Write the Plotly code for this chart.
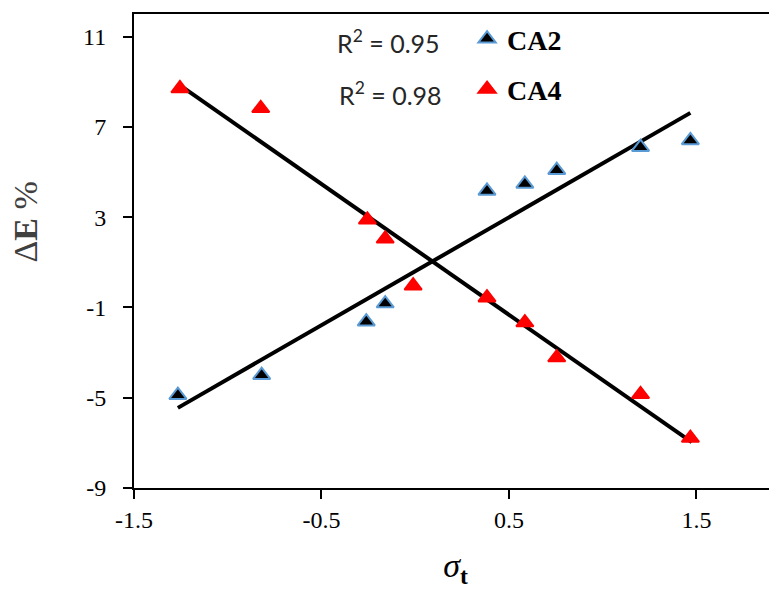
import plotly.graph_objects as go

# --- data ---
ca2_x = [-1.266, -0.819, -0.261, -0.160, 0.383, 0.585, 0.755, 1.202, 1.468]
ca2_y = [-4.89, -4.00, -1.63, -0.83, 4.16, 4.47, 5.08, 6.10, 6.40]

ca4_x = [-1.255, -0.824, -0.255, -0.160, -0.011, 0.383, 0.585, 0.755, 1.202, 1.468]
ca4_y = [8.70, 7.82, 2.88, 2.04, -0.04, -0.57, -1.67, -3.22, -4.85, -6.79]

# trend line end points (as drawn)
ca2_fit_x = [-1.266, 1.468]
ca2_fit_y = [-5.45, 7.62]
ca4_fit_x = [-1.262, 1.475]
ca4_fit_y = [8.88, -6.97]

r2_labels = ["R<sup>2</sup> = 0.95", "R<sup>2</sup> = 0.98"]
x_ticks = [-1.5, -0.5, 0.5, 1.5]
y_ticks = [-9, -5, -1, 3, 7, 11]

fig = go.Figure()

fig.add_trace(go.Scatter(x=ca2_fit_x, y=ca2_fit_y, mode="lines",
                         line=dict(color="black", width=4), showlegend=False,
                         hoverinfo="skip"))
fig.add_trace(go.Scatter(x=ca4_fit_x, y=ca4_fit_y, mode="lines",
                         line=dict(color="black", width=4), showlegend=False,
                         hoverinfo="skip"))

fig.add_trace(go.Scatter(x=ca2_x, y=ca2_y, mode="markers", name="<b>CA2</b>",
                         legendgroup="a",
                         marker=dict(symbol="triangle-up", size=15, color="black",
                                     line=dict(color="#5B9BD5", width=2))))
fig.add_trace(go.Scatter(x=ca4_x, y=ca4_y, mode="markers", name="<b>CA4</b>",
                         legendgroup="b",
                         marker=dict(symbol="triangle-up", size=15, color="#FF0000",
                                     line=dict(color="#FF0000", width=2))))

r2_font = dict(family="Lato", size=25, color="#262626")
fig.add_annotation(x=-0.14, y=10.76, xref="x", yref="y", text=r2_labels[0],
                   showarrow=False, font=r2_font, xanchor="center", yanchor="middle")
fig.add_annotation(x=-0.13, y=8.50, xref="x", yref="y", text=r2_labels[1],
                   showarrow=False, font=r2_font, xanchor="center", yanchor="middle")

# y-axis title (placed a little above the plot centre, as in the reference)
fig.add_annotation(x=0, y=2.76, xref="paper", yref="y", xshift=-108,
                   text="Δ<b>E</b> %", textangle=-90, showarrow=False,
                   font=dict(family="Liberation Serif", size=34, color="#404040"),
                   xanchor="center", yanchor="middle")

# page body has an 8px default margin: figure is sized so the plot sits where the reference has it
fig.update_layout(
    width=769, height=581,
    margin=dict(l=126, r=0, t=6, b=101, autoexpand=False),
    paper_bgcolor="white", plot_bgcolor="white",
    font=dict(family="Liberation Serif", color="black", size=24),
    showlegend=True,
    legend=dict(x=0.518, y=1.0, xanchor="left", yanchor="top",
                font=dict(family="Liberation Serif", size=28, color="black"),
                bgcolor="rgba(0,0,0,0)", traceorder="grouped", tracegroupgap=11,
                itemwidth=30),
    xaxis=dict(range=[-1.5, 1.93], tickvals=x_ticks, ticktext=[str(v) for v in x_ticks],
               showgrid=False, zeroline=False, showline=True, linecolor="black",
               linewidth=2, mirror=True, ticks="outside", ticklen=9, tickwidth=2,
               tickcolor="black", tickfont=dict(size=24), automargin=False,
               title=dict(text="<i>σ</i><sub><b>t</b></sub>",
                          font=dict(size=34, color="black"), standoff=32)),
    yaxis=dict(range=[-9, 12], tickvals=y_ticks, ticktext=[str(v) for v in y_ticks],
               showgrid=False, zeroline=False, showline=True, linecolor="black",
               linewidth=2, ticks="outside", ticklen=9, tickwidth=2,
               tickcolor="black", tickfont=dict(size=24), automargin=False,
               ticklabelstandoff=12),
)

fig.write_html("out.html")
